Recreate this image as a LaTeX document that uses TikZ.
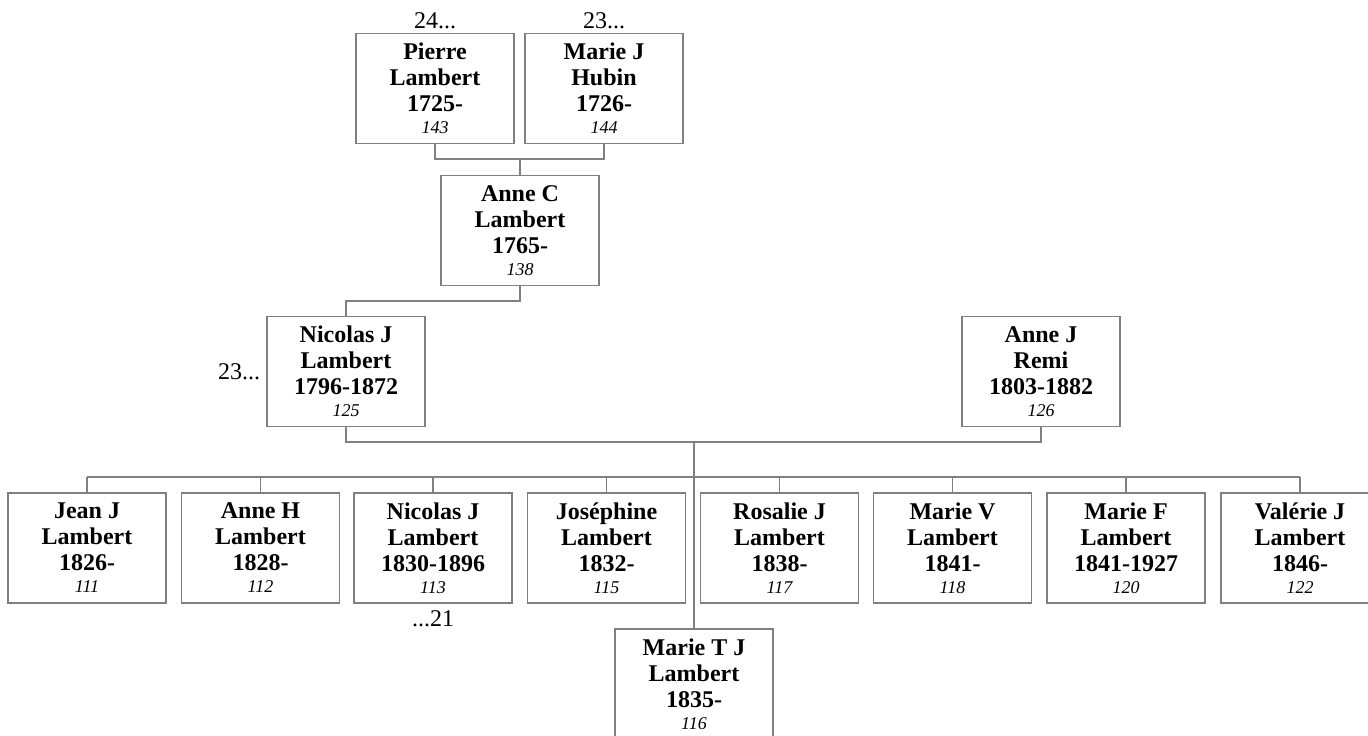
\documentclass[tikz,border=0pt]{standalone}
\usepackage{fontspec}
\setmainfont{Liberation Serif}
\usetikzlibrary{positioning}
\colorlet{boxgray}{black!50}
\colorlet{linegray}{black!50}
\tikzset{
  person/.style={draw=boxgray,line width=0.6pt,minimum width=79pt,minimum height=55pt,
    inner sep=0pt,align=center,font=\fontsize{12}{13}\selectfont\bfseries},
  link/.style={linegray,line width=0.6pt},
  gen/.style={inner sep=0pt,font=\fontsize{12}{13}\selectfont}
}
\newcommand{\idno}[1]{\\[-2pt]{\fontsize{9}{9}\selectfont\mdseries\itshape #1}}

\begin{document}
\begin{tikzpicture}[x=0.5pt,y=-0.5pt]
  \useasboundingbox (0,0) rectangle (1368,735);
  
  \def\yA{88.5}
  \def\yB{230.5}
  \def\yC{371.5}
  \def\yD{548}
  \def\yE{684}
  
  % ANCESTORS
  \node[person] (pierre) at (435,\yA) {Pierre\\Lambert\\1725-\idno{143}};
  \node[person] (hubin)  at (604,\yA) {Marie J\\Hubin\\1726-\idno{144}};
  \node[person] (anneC)  at (520,\yB) {Anne C\\Lambert\\1765-\idno{138}};
  \node[person] (nicolas) at (346,\yC) {Nicolas J\\Lambert\\1796-1872\idno{125}};
  \node[person] (remi)   at (1041,\yC) {Anne J\\Remi\\1803-1882\idno{126}};
  \node[gen,above=2pt of pierre] (genP) {24...};
  \node[gen,above=2pt of hubin] (genH) {23...};
  \node[gen,left=3pt of nicolas] (genN) {23...};
  
  % CHILDREN
  \node[person] (jean)      at (87,\yD)   {Jean J\\Lambert\\1826-\idno{111}};
  \node[person] (anneH)     at (260.5,\yD) {Anne H\\Lambert\\1828-\idno{112}};
  \node[person] (nicolasJ)  at (433,\yD)  {Nicolas J\\Lambert\\1830-1896\idno{113}};
  \node[person] (josephine) at (606.5,\yD) {Joséphine\\Lambert\\1832-\idno{115}};
  \node[person] (rosalie)   at (779.5,\yD) {Rosalie J\\Lambert\\1838-\idno{117}};
  \node[person] (marieV)    at (952.5,\yD) {Marie V\\Lambert\\1841-\idno{118}};
  \node[person] (marieF)    at (1126,\yD) {Marie F\\Lambert\\1841-1927\idno{120}};
  \node[person] (valerie)   at (1300,\yD) {Valérie J\\Lambert\\1846-\idno{122}};
  \node[person] (marieT)    at (694,\yE)  {Marie T J\\Lambert\\1835-\idno{116}};
  \node[gen,below=3.5pt of nicolasJ] (genJ) {...21};
  
  % LINKS
  \coordinate (barA) at (520,159);
  \coordinate (barB) at (520,301);
  \coordinate (barC) at (694,442);
  \coordinate (bus)  at (694,477);
  \draw[link] (pierre.south) |- (barA) -| (hubin.south);
  \draw[link] (barA) -- (anneC.north);
  \draw[link] (anneC.south) -- (barB) -| (nicolas.north);
  \draw[link] (nicolas.south) |- (barC) -| (remi.south);
  \draw[link] (barC) -- (marieT.north);
  \draw[link] (jean.north |- bus) -- (valerie.north |- bus);
  \foreach \c in {jean,anneH,nicolasJ,josephine,rosalie,marieV,marieF,valerie}
    \draw[link] (\c.north) -- (\c.north |- bus);
  
\end{tikzpicture}
\end{document}
